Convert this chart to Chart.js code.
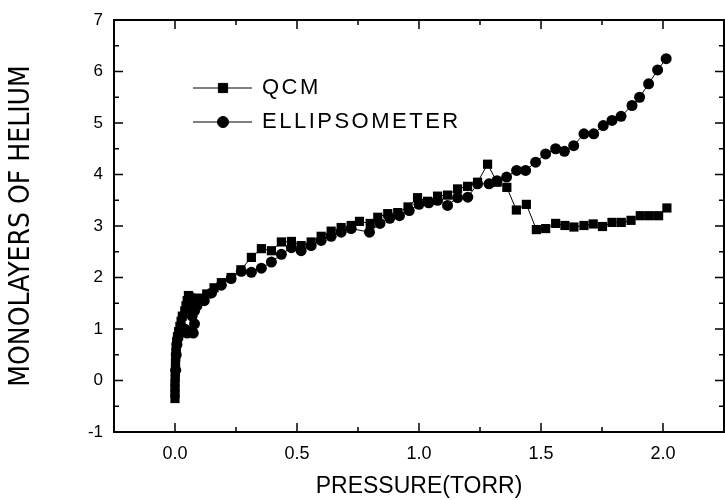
<!DOCTYPE html>
<html>
<head>
<meta charset="utf-8">
<script src="https://cdn.jsdelivr.net/npm/chart.js@4/dist/chart.umd.min.js"></script>
<style>
  html, body { margin: 0; padding: 0; background: #fff; }
  #wrap { width: 725px; height: 500px; }
  canvas { display: block; }
</style>
</head>
<body>
<div id="wrap"><canvas id="heliumChart" width="725" height="500"></canvas></div>
<script>
// QCM data (pressure in torr, monolayers)
const qcmX = [0.000, 0.000, 0.000, 0.000, 0.001, 0.001, 0.002, 0.002, 0.003, 0.004, 0.005, 0.007, 0.010, 0.015, 0.020, 0.025, 0.030, 0.040, 0.045, 0.050, 0.055, 0.060, 0.065, 0.080, 0.100, 0.130, 0.160, 0.190, 0.230, 0.270, 0.313, 0.354, 0.395, 0.436, 0.477, 0.517, 0.558, 0.599, 0.640, 0.681, 0.722, 0.756, 0.800, 0.831, 0.872, 0.913, 0.955, 0.994, 1.035, 1.076, 1.117, 1.158, 1.199, 1.240, 1.281, 1.320, 1.360, 1.399, 1.440, 1.481, 1.519, 1.560, 1.598, 1.635, 1.676, 1.714, 1.752, 1.791, 1.829, 1.869, 1.907, 1.944, 1.982, 2.016];
const qcmY = [-0.35, -0.25, -0.15, -0.05, 0.05, 0.15, 0.25, 0.35, 0.45, 0.55, 0.65, 0.75, 0.85, 0.95, 1.05, 1.15, 1.25, 1.35, 1.45, 1.55, 1.65, 1.62, 1.60, 1.55, 1.60, 1.68, 1.80, 1.90, 2.00, 2.15, 2.39, 2.56, 2.52, 2.69, 2.70, 2.62, 2.69, 2.80, 2.90, 2.97, 3.01, 3.09, 3.05, 3.17, 3.24, 3.26, 3.37, 3.55, 3.48, 3.58, 3.60, 3.72, 3.77, 3.85, 4.20, 3.85, 3.75, 3.31, 3.42, 2.93, 2.95, 3.05, 3.01, 2.98, 3.01, 3.04, 2.99, 3.07, 3.07, 3.11, 3.20, 3.20, 3.20, 3.35];

// Ellipsometer data
const ellX = [0.003, 0.005, 0.008, 0.012, 0.020, 0.030, 0.040, 0.050, 0.065, 0.075, 0.080, 0.070, 0.060, 0.065, 0.080, 0.090, 0.120, 0.150, 0.190, 0.230, 0.272, 0.313, 0.354, 0.395, 0.436, 0.477, 0.517, 0.558, 0.599, 0.640, 0.681, 0.722, 0.797, 0.840, 0.880, 0.920, 0.960, 1.000, 1.040, 1.076, 1.117, 1.158, 1.200, 1.240, 1.287, 1.320, 1.359, 1.400, 1.437, 1.478, 1.519, 1.560, 1.596, 1.634, 1.676, 1.716, 1.755, 1.791, 1.828, 1.873, 1.904, 1.941, 1.978, 2.013];
const ellY = [0.20, 0.50, 0.70, 0.82, 0.92, 0.95, 1.00, 0.92, 0.95, 0.92, 1.10, 1.25, 1.38, 1.50, 1.35, 1.45, 1.55, 1.70, 1.85, 1.98, 2.12, 2.10, 2.18, 2.30, 2.45, 2.58, 2.52, 2.62, 2.72, 2.80, 2.88, 2.95, 2.88, 3.05, 3.15, 3.20, 3.30, 3.42, 3.45, 3.50, 3.40, 3.55, 3.56, 3.82, 3.82, 3.88, 3.95, 4.08, 4.08, 4.24, 4.40, 4.50, 4.45, 4.56, 4.79, 4.79, 4.95, 5.05, 5.13, 5.34, 5.50, 5.76, 6.03, 6.25];

// Axis ticks
const xTicks = [0.0, 0.5, 1.0, 1.5, 2.0];
const xMinor = [-0.25, 0.25, 0.75, 1.25, 1.75, 2.25];
const yTicks = [-1, 0, 1, 2, 3, 4, 5, 6, 7];
const yMinor = [-0.5, 0.5, 1.5, 2.5, 3.5, 4.5, 5.5, 6.5];

const seriesNames = ['QCM', 'ELLIPSOMETER'];
const FONT = "'Liberation Sans', Arial, sans-serif";
const NARROW = "'Liberation Sans Narrow', 'DejaVu Sans Condensed', Arial, sans-serif";

function toPoints(xs, ys) {
    return xs.map((x, i) => ({ x: x, y: ys[i] }));
}

// Draws the frame, inward ticks on all four sides and the inset legend
const framePlugin = {
    id: 'frame',
    afterDraw(chart) {
        const ctx = chart.ctx;
        const { left, right, top, bottom } = chart.chartArea;
        const xs = chart.scales.x;
        const ys = chart.scales.y;
        ctx.save();
        ctx.strokeStyle = '#000';
        ctx.lineWidth = 2;
        ctx.strokeRect(left, top, right - left, bottom - top);

        ctx.lineWidth = 1.5;
        ctx.beginPath();
        const xTick = (v, len) => {
            const px = xs.getPixelForValue(v);
            ctx.moveTo(px, bottom); ctx.lineTo(px, bottom - len);
            ctx.moveTo(px, top); ctx.lineTo(px, top + len);
        };
        const yTick = (v, len) => {
            const py = ys.getPixelForValue(v);
            ctx.moveTo(left, py); ctx.lineTo(left + len, py);
            ctx.moveTo(right, py); ctx.lineTo(right - len, py);
        };
        xTicks.forEach(v => xTick(v, 9));
        xMinor.forEach(v => xTick(v, 5));
        yTicks.forEach(v => yTick(v, 9));
        yMinor.forEach(v => yTick(v, 5));
        ctx.stroke();

        // legend
        const rows = [
            { y: 88, style: 'rect', r: 6.5 },
            { y: 122, style: 'circle', r: 5.5 }
        ];
        rows.forEach((row, i) => {
            ctx.lineWidth = 1;
            ctx.beginPath();
            ctx.moveTo(193, row.y); ctx.lineTo(252, row.y);
            ctx.stroke();
            Chart.helpers.drawPoint(ctx, { pointStyle: row.style, radius: row.r, borderWidth: 1 }, 223, row.y);
            ctx.fillStyle = '#000';
            ctx.font = '22px ' + FONT;
            ctx.letterSpacing = '2.5px';
            ctx.textBaseline = 'middle';
            ctx.textAlign = 'left';
            ctx.fillText(seriesNames[i], 262, row.y);
        });
        ctx.restore();
    }
};

window.onload = () => {
    const ctx = document.getElementById('heliumChart').getContext('2d');
    new Chart(ctx, {
        type: 'scatter',
        data: {
            datasets: [{
                label: seriesNames[0],
                data: toPoints(qcmX, qcmY),
                showLine: true,
                borderColor: '#000',
                backgroundColor: '#000',
                borderWidth: 1,
                pointStyle: 'rect',
                pointRadius: 6.5,
                pointBorderWidth: 0
            }, {
                label: seriesNames[1],
                data: toPoints(ellX, ellY),
                showLine: true,
                borderColor: '#000',
                backgroundColor: '#000',
                borderWidth: 1,
                pointStyle: 'circle',
                pointRadius: 5.5,
                pointBorderWidth: 0
            }]
        },
        options: {
            responsive: false,
            animation: false,
            layout: { autoPadding: false, padding: { left: 5, top: 20, right: 1, bottom: 0 } },
            plugins: {
                legend: { display: false },
                tooltip: { enabled: false }
            },
            scales: {
                x: {
                    type: 'linear',
                    min: -0.25,
                    max: 2.25,
                    grid: { display: false },
                    border: { display: false },
                    afterBuildTicks: s => { s.ticks = xTicks.map(v => ({ value: v })); },
                    afterFit: s => { s.height = 68; },
                    ticks: {
                        color: '#000',
                        padding: 3,
                        maxRotation: 0,
                        font: { family: FONT, size: 18 },
                        callback: v => v.toFixed(1)
                    },
                    title: {
                        display: true,
                        text: 'PRESSURE(TORR)',
                        color: '#000',
                        padding: { top: 0, bottom: 0 },
                        font: { family: FONT, size: 23 }
                    }
                },
                y: {
                    type: 'linear',
                    min: -1,
                    max: 7,
                    grid: { display: false },
                    border: { display: false },
                    afterBuildTicks: s => { s.ticks = yTicks.map(v => ({ value: v })); },
                    afterFit: s => { s.width = 109; },
                    ticks: {
                        color: '#000',
                        padding: 3,
                        font: { family: FONT, size: 17 },
                        callback: v => String(v)
                    },
                    title: {
                        display: true,
                        text: 'MONOLAYERS OF HELIUM',
                        color: '#000',
                        padding: { top: 0, bottom: 0 },
                        font: { family: NARROW, size: 28 }
                    }
                }
            }
        },
        plugins: [framePlugin]
    });
};
</script>
</body>
</html>
